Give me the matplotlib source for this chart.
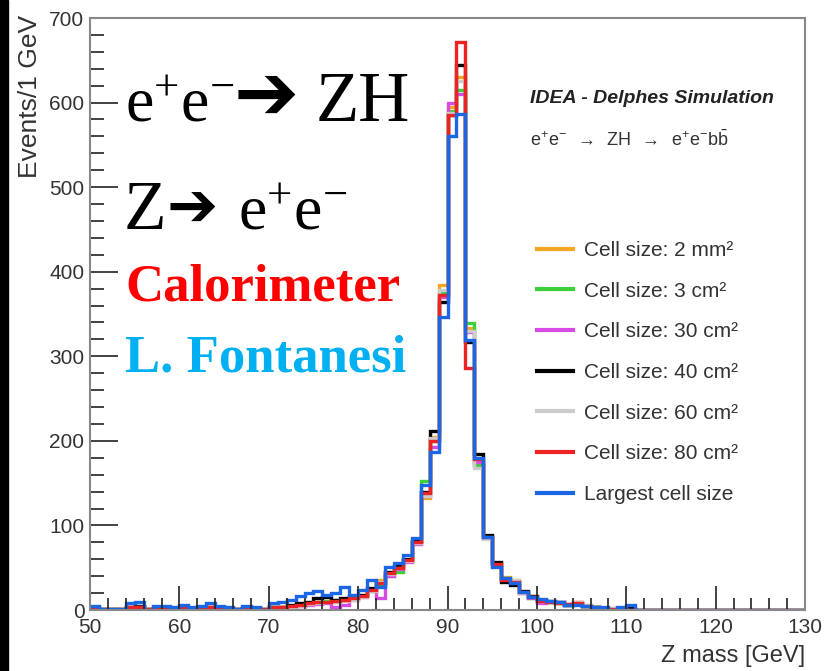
import matplotlib
matplotlib.use("Agg")
import matplotlib.pyplot as plt
import numpy as np
from matplotlib.lines import Line2D
from matplotlib.patches import Rectangle
from matplotlib.ticker import MultipleLocator

plt.rcParams['font.family'] = ['Liberation Sans', 'DejaVu Sans']
plt.rcParams['mathtext.fontset'] = 'custom'
plt.rcParams['mathtext.rm'] = 'Liberation Serif'
plt.rcParams['mathtext.sf'] = 'Liberation Sans'
plt.rcParams['mathtext.it'] = 'Liberation Serif:italic'

# Z mass histograms, 1 GeV bins from 50 to 130 GeV
edges = np.arange(50, 131, 1)

cell_2mm2 = [2, 1, 0, 1, 3, 4, 1, 2, 1, 2,
             2, 1, 2, 3, 2, 1, 1, 2, 1, 1,
             2, 3, 4, 5, 8, 9, 10, 10, 12, 13,
             16, 24, 35, 44, 51, 59, 79, 132, 205, 384,
             595, 630, 333, 172, 86, 55, 39, 36, 20, 16,
             12, 10, 8, 7, 10, 6, 4, 2, 2, 1,
             1, 0, 0, 0, 0, 0, 0, 0, 0, 0,
             0, 0, 0, 0, 0, 0, 0, 0, 0, 0]
cell_3cm2 = [1, 1, 1, 0, 2, 3, 1, 1, 2, 1,
             1, 2, 1, 2, 2, 1, 1, 1, 2, 0,
             3, 3, 5, 6, 7, 10, 11, 12, 13, 14,
             17, 22, 30, 40, 45, 58, 80, 152, 200, 375,
             590, 615, 339, 172, 88, 54, 38, 34, 21, 14,
             10, 9, 8, 6, 8, 5, 3, 2, 1, 1,
             0, 0, 0, 0, 0, 0, 0, 0, 0, 0,
             0, 0, 0, 0, 0, 0, 0, 0, 0, 0]
cell_30cm2 = [1, 0, 1, 1, 2, 3, 1, 1, 1, 2,
              1, 1, 2, 2, 1, 1, 0, 1, 1, 1,
              2, 2, 4, 5, 6, 7, 8, 4, 6, 12,
              15, 22, 14, 40, 48, 57, 78, 135, 193, 370,
              599, 610, 329, 175, 85, 52, 36, 33, 20, 14,
              8, 9, 9, 6, 10, 5, 3, 2, 1, 1,
              0, 0, 0, 0, 0, 0, 0, 0, 0, 0,
              0, 0, 0, 0, 0, 0, 0, 0, 0, 0]
cell_40cm2 = [2, 1, 1, 1, 4, 5, 1, 2, 2, 2,
              3, 2, 2, 4, 2, 2, 1, 2, 2, 1,
              3, 4, 6, 8, 10, 14, 15, 12, 14, 16,
              18, 26, 32, 45, 52, 60, 82, 140, 212, 364,
              585, 644, 317, 185, 89, 57, 33, 30, 22, 17,
              12, 11, 10, 6, 7, 5, 3, 2, 1, 2,
              2, 0, 0, 0, 0, 0, 0, 0, 0, 0,
              0, 0, 0, 0, 0, 0, 0, 0, 0, 0]
cell_60cm2 = [1, 1, 1, 1, 2, 3, 1, 2, 1, 1,
              2, 1, 1, 2, 2, 1, 1, 1, 1, 1,
              2, 3, 4, 5, 7, 8, 9, 9, 11, 12,
              15, 23, 33, 43, 50, 58, 79, 135, 203, 378,
              588, 625, 330, 168, 84, 53, 37, 35, 20, 15,
              11, 10, 8, 7, 9, 6, 4, 2, 2, 1,
              0, 0, 0, 0, 0, 0, 0, 0, 0, 0,
              0, 0, 0, 0, 0, 0, 0, 0, 0, 0]
cell_80cm2 = [2, 1, 1, 1, 3, 4, 1, 2, 1, 2,
              2, 1, 2, 3, 2, 1, 1, 2, 1, 1,
              3, 3, 5, 6, 8, 9, 10, 11, 12, 14,
              16, 24, 32, 44, 50, 59, 80, 138, 200, 372,
              585, 672, 286, 178, 86, 54, 36, 33, 21, 15,
              11, 10, 8, 7, 8, 5, 3, 2, 1, 1,
              0, 0, 0, 0, 0, 0, 0, 0, 0, 0,
              0, 0, 0, 0, 0, 0, 0, 0, 0, 0]
cell_largest = [5, 1, 1, 1, 8, 10, 0, 5, 5, 4,
                6, 4, 5, 8, 5, 3, 1, 5, 4, 0,
                8, 9, 12, 16, 20, 22, 18, 20, 27, 18,
                24, 35, 27, 51, 56, 65, 85, 148, 187, 346,
                560, 587, 319, 180, 86, 51, 38, 32, 21, 15,
                13, 11, 9, 6, 6, 5, 3, 3, 0, 4,
                6, 0, 0, 0, 0, 0, 0, 0, 0, 0,
                0, 0, 0, 0, 0, 0, 0, 0, 0, 0]

series = [cell_2mm2, cell_3cm2, cell_30cm2, cell_40cm2, cell_60cm2, cell_80cm2, cell_largest]
labels = ['Cell size: 2 mm²', 'Cell size: 3 cm²', 'Cell size: 30 cm²', 'Cell size: 40 cm²',
          'Cell size: 60 cm²', 'Cell size: 80 cm²', 'Largest cell size']
colors = ['#f5a623', '#3ccf3c', '#d84ae6', '#000000', '#cccccc', '#ee2222', '#1a66e6']

W, H = 825, 671
fig = plt.figure(figsize=(W / 100, H / 100), dpi=100)
ax = fig.add_axes([90 / W, 1 - 610 / H, 715 / W, 592 / H])


def fx(x):
    return x / W


def fy(y):
    return 1 - y / H


for vals, col in zip(series, colors):
    ax.stairs(vals, edges, color=col, lw=2.4, baseline=0)

ax.set_xlim(50, 130)
ax.set_ylim(0, 700)
ax.xaxis.set_major_locator(MultipleLocator(10))
ax.xaxis.set_minor_locator(MultipleLocator(2))
ax.yaxis.set_major_locator(MultipleLocator(100))
ax.yaxis.set_minor_locator(MultipleLocator(20))
ax.tick_params(which='both', direction='in', colors='#222222', labelcolor='#333333',
               labelsize=15, width=1.2)
ax.tick_params(axis='x', which='major', length=17, pad=6)
ax.tick_params(axis='x', which='minor', length=9)
ax.tick_params(axis='y', which='major', length=20, pad=4)
ax.tick_params(axis='y', which='minor', length=10)
for sp in ax.spines.values():
    sp.set_color('#888888')
    sp.set_linewidth(1.5)

fig.text(fx(805), fy(662), 'Z mass [GeV]', ha='right', va='baseline', fontsize=17, color='#333333')
fig.text(fx(42), fy(15), 'Events/1 GeV', ha='right', va='bottom', rotation=90,
         fontsize=19, color='#333333', rotation_mode='anchor')

# labels inside the frame
fig.text(fx(530), fy(103), 'IDEA - Delphes Simulation', fontsize=14, fontweight='bold',
         fontstyle='italic', color='#222222', va='baseline')
fig.text(fx(530), fy(146),
         r'$\mathsf{e^{+}e^{-}\ \ \rightarrow\ \ ZH\ \ \rightarrow\ \ e^{+}e^{-}b\bar{b}}$',
         fontsize=13, color='#333333', va='baseline')

handles = [Line2D([], [], color=c, lw=3) for c in colors]
ax.legend(handles, labels, loc='upper left', bbox_to_anchor=(fx(537), fy(241)),
          bbox_transform=fig.transFigure, frameon=False, fontsize=15,
          handlelength=1.75, handletextpad=0.5, labelspacing=1.04,
          borderpad=0, borderaxespad=0, labelcolor='#333333')

# overlay annotations
big = 46
fig.text(fx(125), fy(121), r'$\mathrm{e^{+}e^{-}}$', fontsize=big, va='baseline')
fig.text(fx(234), fy(119), '\u2794', fontsize=56, va='baseline', family='DejaVu Sans')
fig.text(fx(316), fy(121), 'ZH', fontsize=51, va='baseline', family='Liberation Serif')
fig.text(fx(124), fy(229), 'Z', fontsize=50, va='baseline', family='Liberation Serif')
fig.text(fx(166), fy(227), '\u2794', fontsize=44, va='baseline', family='DejaVu Sans')
fig.text(fx(238), fy(229), r'$\mathrm{e^{+}e^{-}}$', fontsize=big, va='baseline')
fig.text(fx(125), fy(300), 'Calorimeter', fontsize=38, fontweight='bold',
         family='Liberation Serif', color='#ff0000', va='baseline')
fig.text(fx(125), fy(372), 'L. Fontanesi', fontsize=38, fontweight='bold',
         family='Liberation Serif', color='#00b0f0', va='baseline')

fig.patches.append(Rectangle((0, 0), fx(8), 1, transform=fig.transFigure,
                             color='black', zorder=0))

fig.savefig('out.png', dpi=100)
